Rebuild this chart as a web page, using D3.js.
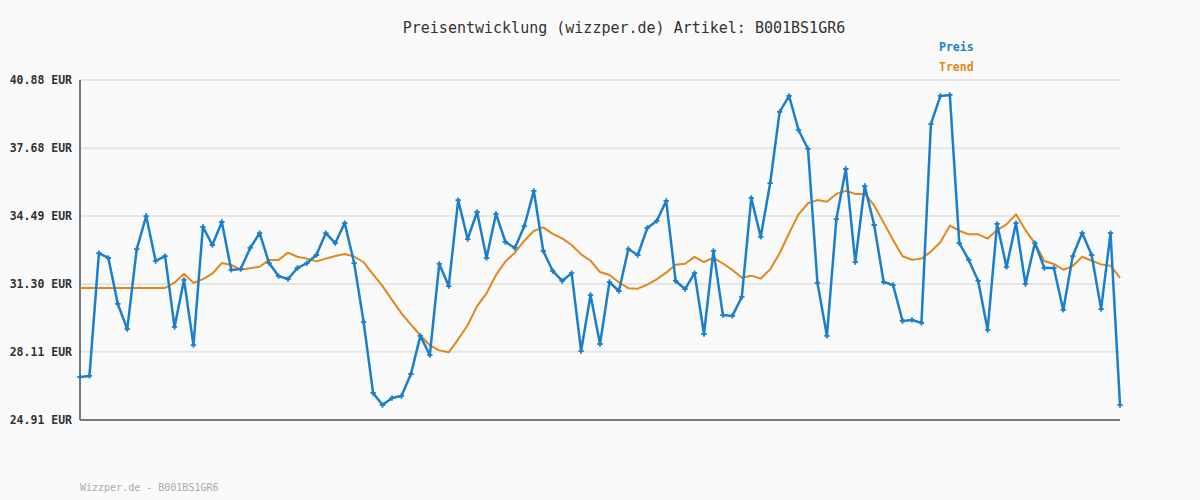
<!DOCTYPE html>
<html>
<head>
<meta charset="utf-8">
<title>Preisentwicklung</title>
<script src="https://d3js.org/d3.v7.min.js"></script>
<style>
    body { margin: 0; background: #fafafa; }
    svg { display: block; background: #fafafa; }
    .grid line { stroke: #e6e6e6; stroke-width: 2px; }
    .yaxis text { font: bold 11.5px "DejaVu Sans Mono", monospace; fill: #333; }
    .yaxis path, .yaxis line { display: none; }
</style>
</head>
<body>
<svg width="1200" height="500"></svg>
<script>
// price series (EUR), one value per sample
const preis = [
    26.93, 26.98, 32.75, 32.52, 30.36, 29.18, 32.94, 34.49, 32.38, 32.61,
    29.28, 31.49, 28.43, 33.98, 33.13, 34.21, 31.96, 32.00, 32.99, 33.69,
    32.28, 31.67, 31.53, 32.05, 32.28, 32.66, 33.69, 33.22, 34.16, 32.28,
    29.51, 26.18, 25.61, 25.94, 26.04, 27.07, 28.86, 27.96, 32.24, 31.20,
    35.24, 33.41, 34.68, 32.52, 34.59, 33.27, 32.99, 34.02, 35.67, 32.85,
    31.91, 31.44, 31.81, 28.15, 30.78, 28.48, 31.39, 30.97, 32.94, 32.66,
    33.93, 34.26, 35.20, 31.44, 31.06, 31.81, 28.95, 32.85, 29.84, 29.80,
    30.69, 35.34, 33.51, 36.04, 39.38, 40.13, 38.53, 37.64, 31.35, 28.86,
    34.35, 36.70, 32.33, 35.90, 34.07, 31.39, 31.25, 29.56, 29.61, 29.47,
    38.81, 40.13, 40.18, 33.22, 32.43, 31.44, 29.14, 34.12, 32.10, 34.16,
    31.30, 33.22, 32.05, 32.05, 30.08, 32.61, 33.69, 32.66, 30.12, 33.69,
    25.61
];

// trend series (EUR)
const trend = [
    31.11, 31.11, 31.11, 31.11, 31.11, 31.11, 31.11, 31.11, 31.11, 31.11,
    31.36, 31.78, 31.35, 31.53, 31.78, 32.28, 32.19, 31.97, 32.04, 32.11,
    32.43, 32.43, 32.77, 32.58, 32.49, 32.36, 32.49, 32.61, 32.71, 32.59,
    32.32, 31.75, 31.20, 30.55, 29.92, 29.39, 28.89, 28.42, 28.18, 28.09,
    28.70, 29.36, 30.26, 30.86, 31.72, 32.36, 32.77, 33.33, 33.79, 33.96,
    33.65, 33.44, 33.13, 32.69, 32.39, 31.86, 31.72, 31.38, 31.10, 31.08,
    31.27, 31.52, 31.83, 32.20, 32.25, 32.57, 32.33, 32.53, 32.26, 31.96,
    31.59, 31.69, 31.55, 31.99, 32.74, 33.68, 34.57, 35.09, 35.24, 35.16,
    35.53, 35.67, 35.53, 35.53, 34.99, 34.18, 33.36, 32.60, 32.44, 32.49,
    32.82, 33.26, 34.04, 33.80, 33.63, 33.63, 33.43, 33.83, 34.10, 34.57,
    33.83, 33.21, 32.38, 32.24, 31.97, 32.14, 32.58, 32.39, 32.22, 32.16,
    31.59
];

const yTicks = [24.91, 28.11, 31.30, 34.49, 37.68, 40.88];
const legendNames = ["Preis", "Trend"];
const colors = ["#1a7fcc", "#e3861c"];

const svg = d3.select("svg");
const margin = {left: 80, right: 80, top: 80, bottom: 80};
const width = 1200, height = 500;

const x = d3.scaleLinear()
    .domain([0, preis.length - 1])
    .range([margin.left, width - margin.right]);

const y = d3.scaleLinear()
    .domain([d3.min(yTicks), d3.max(yTicks)])
    .range([height - margin.bottom, margin.top]);

// title
svg.append("text")
    .attr("x", 624).attr("y", 33)
    .attr("text-anchor", "middle")
    .style("font", "15px 'DejaVu Sans Mono', monospace")
    .style("fill", "#333")
    .text("Preisentwicklung (wizzper.de) Artikel: B001BS1GR6");

// legend
svg.selectAll(".legend")
    .data(legendNames)
    .enter().append("text")
    .attr("class", "legend")
    .attr("x", 939)
    .attr("y", (d, i) => 51 + i * 20)
    .style("font", "bold 11.5px 'DejaVu Sans Mono', monospace")
    .style("fill", (d, i) => colors[i])
    .text(d => d);

// grid
svg.append("g")
    .attr("class", "grid")
    .selectAll("line")
    .data(yTicks.slice(1))
    .enter().append("line")
    .attr("x1", margin.left).attr("x2", width - margin.right)
    .attr("y1", d => y(d)).attr("y2", d => y(d));

// y axis labels
svg.append("g")
    .attr("class", "yaxis")
    .attr("transform", `translate(${margin.left},0)`)
    .call(d3.axisLeft(y).tickValues(yTicks).tickSize(0).tickPadding(8)
        .tickFormat(d => d3.format(".2f")(d) + " EUR"));

// axis lines
svg.append("line")
    .attr("x1", margin.left).attr("x2", margin.left)
    .attr("y1", y(d3.max(yTicks))).attr("y2", y(d3.min(yTicks)))
    .attr("stroke", "#777").attr("stroke-width", 2);
svg.append("line")
    .attr("x1", margin.left).attr("x2", width - margin.right)
    .attr("y1", y(d3.min(yTicks))).attr("y2", y(d3.min(yTicks)))
    .attr("stroke", "#777").attr("stroke-width", 2);

const line = d3.line()
    .x((d, i) => x(i))
    .y(d => y(d));

// trend
svg.append("path")
    .datum(trend)
    .attr("fill", "none")
    .attr("stroke", colors[1])
    .attr("stroke-width", 2)
    .attr("stroke-linejoin", "round")
    .attr("d", line);

// price
svg.append("path")
    .datum(preis)
    .attr("fill", "none")
    .attr("stroke", colors[0])
    .attr("stroke-width", 2.5)
    .attr("stroke-linejoin", "round")
    .attr("d", line);

svg.append("g")
    .selectAll("path")
    .data(preis)
    .enter().append("path")
    .attr("transform", (d, i) => `translate(${x(i)},${y(d)})`)
    .attr("d", d3.symbol().type(d3.symbolCross).size(16))
    .attr("fill", colors[0]);

// footer
svg.append("text")
    .attr("x", 80).attr("y", 491)
    .style("font", "10px 'DejaVu Sans Mono', monospace")
    .style("fill", "#aaa")
    .text("Wizzper.de - B001BS1GR6");
</script>
</body>
</html>
